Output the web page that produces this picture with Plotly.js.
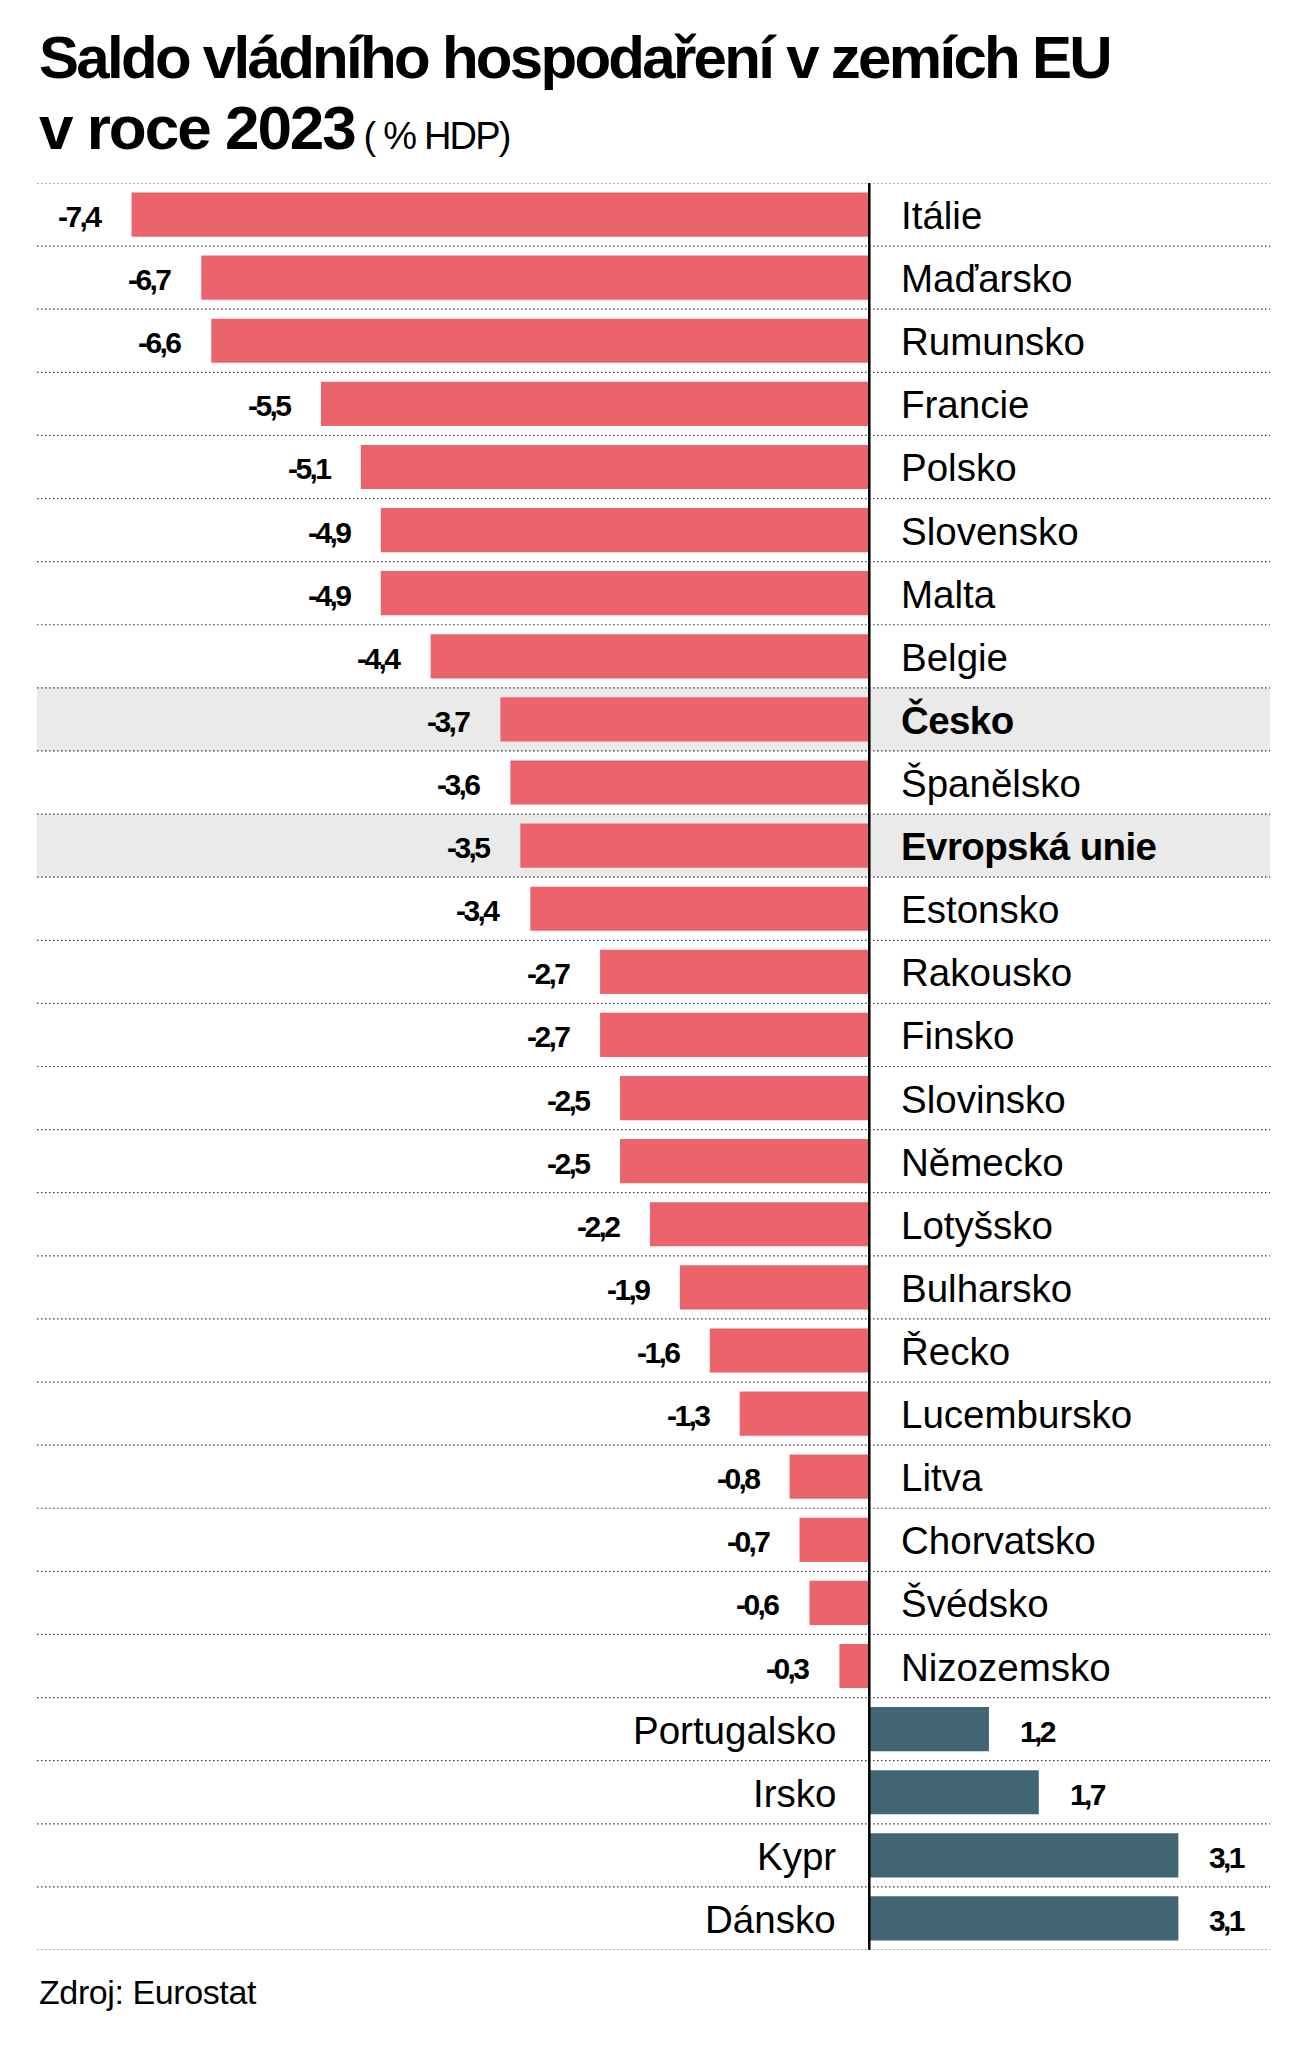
<!DOCTYPE html>
<html>
<head>
<meta charset="utf-8">
<script src="https://cdn.plot.ly/plotly-3.0.1.min.js"></script>
<style>
  html, body { margin: 0; padding: 0; background: #ffffff; }
  #chart { width: 1305px; height: 2048px; }
</style>
</head>
<body>
<div id="chart"></div>
<script>
// ---- data ----
const countries = [
  'Itálie', 'Maďarsko', 'Rumunsko', 'Francie', 'Polsko', 'Slovensko', 'Malta',
  'Belgie', 'Česko', 'Španělsko', 'Evropská unie', 'Estonsko', 'Rakousko',
  'Finsko', 'Slovinsko', 'Německo', 'Lotyšsko', 'Bulharsko', 'Řecko',
  'Lucembursko', 'Litva', 'Chorvatsko', 'Švédsko', 'Nizozemsko',
  'Portugalsko', 'Irsko', 'Kypr', 'Dánsko'
];
const values = [
  -7.4, -6.7, -6.6, -5.5, -5.1, -4.9, -4.9,
  -4.4, -3.7, -3.6, -3.5, -3.4, -2.7,
  -2.7, -2.5, -2.5, -2.2, -1.9, -1.6,
  -1.3, -0.8, -0.7, -0.6, -0.3,
  1.2, 1.7, 3.1, 3.1
];
const highlighted = ['Česko', 'Evropská unie'];
const titleLine1 = 'Saldo vládního hospodaření v zemích EU';
const titleLine2 = 'v roce 2023';
const titleUnit = '( % HDP)';
const sourceText = 'Zdroj: Eurostat';

// ---- styling ----
const RED = '#EB636B';
const TEAL = '#426574';
const BAND = '#EAEAEA';
const SANS = '"Liberation Sans", Arial, Helvetica, sans-serif';

const W = 1305, H = 2048;
const plotLeft = 37, plotRight = 1270, plotTop = 183.3, plotBottom = 1950;
const zeroPx = 869.3, pxPerUnit = 99.7;
const xRange = [-(zeroPx - plotLeft) / pxPerUnit, (plotRight - zeroPx) / pxPerUnit];
const py = (px) => (plotBottom - px) / (plotBottom - plotTop);
const tight = (t, ls) => '<span style="letter-spacing:' + ls + 'px">' + t + '</span>';

const fmt = (v) => v.toFixed(1).replace('.', ',');
const n = countries.length;

const trace = {
  type: 'bar',
  orientation: 'h',
  x: values,
  y: countries,
  width: 0.7,
  marker: { color: values.map(v => v < 0 ? RED : TEAL), line: { width: 0 } },
  hoverinfo: 'x+y'
};

const shapes = [];
// highlight bands
countries.forEach((c, i) => {
  if (highlighted.includes(c)) {
    shapes.push({
      type: 'rect', xref: 'paper', yref: 'y', x0: 0, x1: 1,
      y0: i - 0.5, y1: i + 0.5, fillcolor: BAND, line: { width: 0 }, layer: 'below'
    });
  }
});
// dotted separators
for (let i = 0; i <= n; i++) {
  shapes.push({
    type: 'line', xref: 'paper', yref: 'y', x0: 0, x1: 1,
    y0: i - 0.5, y1: i - 0.5,
    line: { color: '#3a3a3a', width: 1.2, dash: '1.5px,2.5px' }, layer: 'below'
  });
}
// zero line
shapes.push({
  type: 'line', xref: 'x', yref: 'y', x0: 0, x1: 0, y0: -0.5, y1: n - 0.5,
  line: { color: '#000000', width: 2.5 }, layer: 'above'
});

const annotations = [];
countries.forEach((c, i) => {
  const v = values[i];
  const bold = highlighted.includes(c);
  // category label
  annotations.push({
    xref: 'x', yref: 'y', x: 0, y: i,
    text: bold ? '<b>' + tight(c, -0.6) + '</b>' : c,
    showarrow: false,
    xanchor: v < 0 ? 'left' : 'right',
    xshift: v < 0 ? 30 : -31,
    yanchor: 'middle', yshift: -1,
    font: { family: SANS, size: 38.5, color: '#000000' }
  });
  // value label
  annotations.push({
    xref: 'x', yref: 'y', x: v, y: i,
    text: '<b>' + tight(fmt(v), -2.6) + '</b>',
    showarrow: false,
    xanchor: v < 0 ? 'right' : 'left',
    xshift: v < 0 ? -28 : 29,
    yanchor: 'middle', yshift: -2,
    font: { family: SANS, size: 30, color: '#000000' }
  });
});

// titles
annotations.push({
  xref: 'paper', yref: 'paper', x: 0, y: py(58), xanchor: 'left', yanchor: 'middle',
  showarrow: false, text: '<b>' + tight(titleLine1, -2.7) + '</b>',
  font: { family: SANS, size: 60, color: '#000000' }
});
annotations.push({
  xref: 'paper', yref: 'paper', x: 0, y: py(128), xanchor: 'left', yanchor: 'middle',
  showarrow: false,
  text: '<b>' + tight(titleLine2, -2.0) + '</b>' +
        '<span style="font-size:38px;letter-spacing:-1.8px"> ' + titleUnit + '</span>',
  font: { family: SANS, size: 62, color: '#000000' }
});
// source
annotations.push({
  xref: 'paper', yref: 'paper', x: 0, y: py(1992), xanchor: 'left', yanchor: 'middle',
  showarrow: false, text: tight(sourceText, -0.4),
  font: { family: SANS, size: 34, color: '#000000' }
});

const layout = {
  width: W, height: H,
  margin: { l: plotLeft, r: W - plotRight, t: plotTop, b: H - plotBottom, pad: 0 },
  paper_bgcolor: '#ffffff', plot_bgcolor: 'rgba(0,0,0,0)',
  showlegend: false,
  bargap: 0.3,
  xaxis: { range: xRange, visible: false, showgrid: false, zeroline: false, fixedrange: true },
  yaxis: {
    type: 'category', categoryorder: 'array', categoryarray: countries,
    range: [n - 0.5, -0.5], visible: false, showgrid: false, zeroline: false, fixedrange: true
  },
  shapes: shapes,
  annotations: annotations
};

Plotly.newPlot('chart', [trace], layout, { displayModeBar: false, staticPlot: true });
</script>
</body>
</html>
